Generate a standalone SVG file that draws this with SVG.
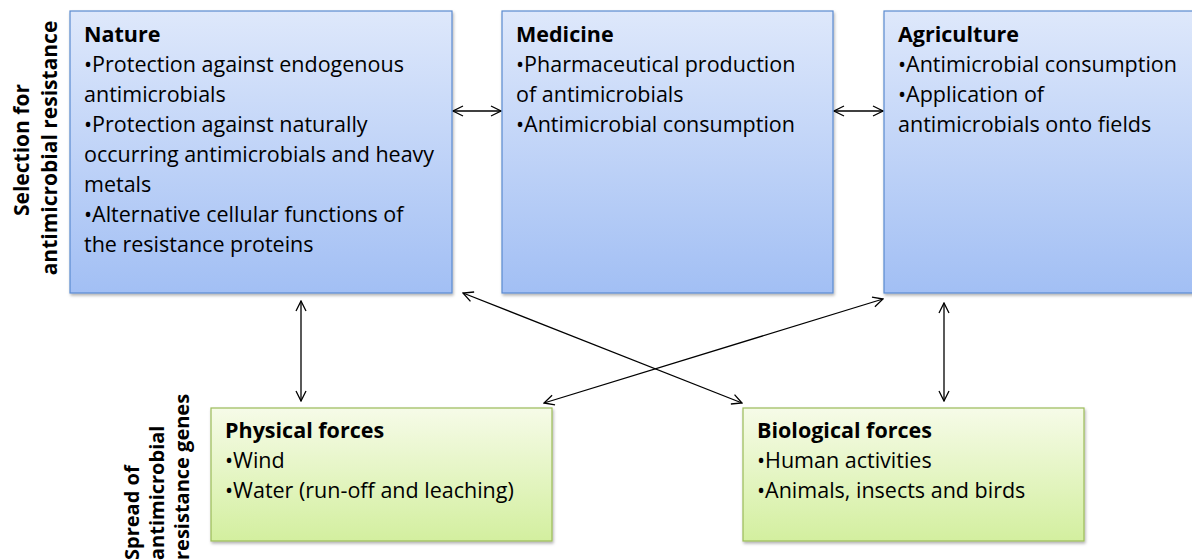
<svg xmlns="http://www.w3.org/2000/svg" width="1192" height="560" viewBox="0 0 1192 560">
<style>
.t{font-family:"Open Sans","Liberation Sans",sans-serif;font-size:21.5px;fill:#000}
.r{font-family:"Open Sans","Liberation Sans",sans-serif;font-size:21px;font-weight:bold;fill:#000}
.s{font-size:20px}
.b{font-weight:bold}
.blue{fill:url(#gb);stroke:#5b8bd0;stroke-width:1.2}
.green{fill:url(#gg);stroke:#9bbb59;stroke-width:1.2}
.c{stroke:#000;stroke-width:1.3;fill:none;marker-start:url(#ah);marker-end:url(#ah)}
</style>
<defs>
<linearGradient id="gb" x1="0" y1="0" x2="0" y2="1"><stop offset="0" stop-color="#dee8fb"/><stop offset="1" stop-color="#a2bff4"/></linearGradient>
<linearGradient id="gg" x1="0" y1="0" x2="0" y2="1"><stop offset="0" stop-color="#f6fbe8"/><stop offset="1" stop-color="#d3ef9f"/></linearGradient>
<marker id="ah" viewBox="0 0 12 12" refX="11" refY="6" markerWidth="12" markerHeight="12" markerUnits="userSpaceOnUse" orient="auto-start-reverse"><path d="M1,1 L11,6 L1,11" fill="none" stroke="#000" stroke-width="1.3"/></marker>
<filter id="sh" x="-5%" y="-5%" width="110%" height="110%"><feDropShadow dx="1" dy="2" stdDeviation="1.5" flood-color="#000" flood-opacity="0.3"/></filter>
</defs>
<g id="labels" class="r">
<text transform="translate(29,150) rotate(-90)" text-anchor="middle">Selection for</text>
<text transform="translate(57,148) rotate(-90)" text-anchor="middle">antimicrobial resistance</text>
<text class="s" transform="translate(139,560) rotate(-90)">Spread of</text>
<text class="s" transform="translate(164,560) rotate(-90)">antimicrobial</text>
<text class="s" transform="translate(189,560) rotate(-90)">resistance genes</text>
</g>
<g id="connectors">
<line class="c" x1="453" y1="111" x2="501" y2="111"/>
<line class="c" x1="834" y1="111" x2="883" y2="111"/>
<line class="c" x1="301" y1="301" x2="301" y2="401"/>
<line class="c" x1="944" y1="303" x2="944" y2="401"/>
<line class="c" x1="463" y1="293" x2="742" y2="403"/>
<line class="c" x1="883" y1="299" x2="544" y2="403"/>
</g>
<g id="nature">
<rect class="blue" filter="url(#sh)" x="70" y="11" width="382" height="282"/>
<text class="t" x="84" y="42"><tspan class="b">Nature</tspan><tspan x="84" dy="30">•Protection against endogenous</tspan><tspan x="84" dy="30">antimicrobials</tspan><tspan x="84" dy="30">•Protection against naturally</tspan><tspan x="84" dy="30">occurring antimicrobials and heavy</tspan><tspan x="84" dy="30">metals</tspan><tspan x="84" dy="30">•Alternative cellular functions of</tspan><tspan x="84" dy="30">the resistance proteins</tspan></text>
</g>
<g id="medicine">
<rect class="blue" filter="url(#sh)" x="502" y="11" width="331" height="282"/>
<text class="t" x="516" y="42"><tspan class="b">Medicine</tspan><tspan x="516" dy="30">•Pharmaceutical production</tspan><tspan x="516" dy="30">of antimicrobials</tspan><tspan x="516" dy="30">•Antimicrobial consumption</tspan></text>
</g>
<g id="agriculture">
<rect class="blue" filter="url(#sh)" x="884" y="11" width="320" height="282"/>
<text class="t" x="898" y="42"><tspan class="b">Agriculture</tspan><tspan x="898" dy="30">•Antimicrobial consumption</tspan><tspan x="898" dy="30">•Application of</tspan><tspan x="898" dy="30">antimicrobials onto fields</tspan></text>
</g>
<g id="physical">
<rect class="green" filter="url(#sh)" x="211" y="408" width="341" height="133"/>
<text class="t" x="225" y="438"><tspan class="b">Physical forces</tspan><tspan x="225" dy="30">•Wind</tspan><tspan x="225" dy="30">•Water (run-off and leaching)</tspan></text>
</g>
<g id="biological">
<rect class="green" filter="url(#sh)" x="743" y="408" width="341" height="133"/>
<text class="t" x="757" y="438"><tspan class="b">Biological forces</tspan><tspan x="757" dy="30">•Human activities</tspan><tspan x="757" dy="30">•Animals, insects and birds</tspan></text>
</g>
</svg>
